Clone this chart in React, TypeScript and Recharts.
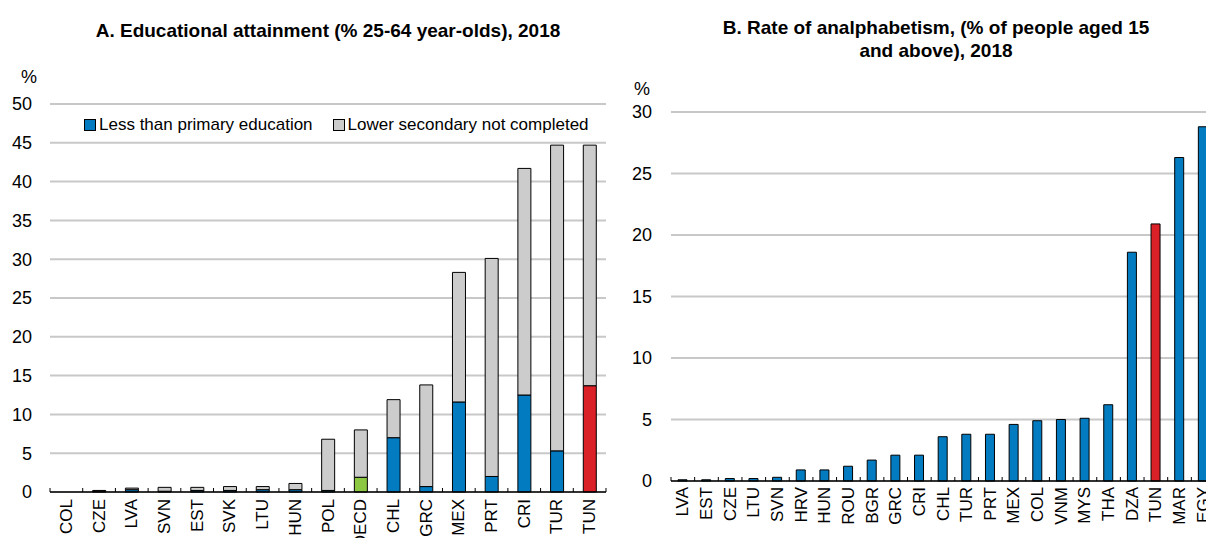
import { BarChart, Bar, XAxis, YAxis, CartesianGrid, Cell } from 'recharts'

// Panel A: educational attainment, % of 25-64 year-olds
const countriesA = ['COL', 'CZE', 'LVA', 'SVN', 'EST', 'SVK', 'LTU', 'HUN', 'POL', 'OECD', 'CHL', 'GRC', 'MEX', 'PRT', 'CRI', 'TUR', 'TUN']
const lessPrimary = [0, 0.1, 0.3, 0.1, 0.2, 0.2, 0.3, 0.3, 0.2, 1.9, 7.0, 0.7, 11.6, 2.0, 12.5, 5.3, 13.7]
const lowerSecondary = [0, 0.1, 0.2, 0.5, 0.4, 0.5, 0.4, 0.8, 6.6, 6.1, 4.9, 13.1, 16.7, 28.1, 29.2, 39.4, 31.0]
const ticksA = [0, 5, 10, 15, 20, 25, 30, 35, 40, 45, 50]

// Panel B: rate of analphabetism, % of people aged 15 and above
const countriesB = ['LVA', 'EST', 'CZE', 'LTU', 'SVN', 'HRV', 'HUN', 'ROU', 'BGR', 'GRC', 'CRI', 'CHL', 'TUR', 'PRT', 'MEX', 'COL', 'VNM', 'MYS', 'THA', 'DZA', 'TUN', 'MAR', 'EGY']
const analphabetism = [0.1, 0.1, 0.2, 0.2, 0.3, 0.9, 0.9, 1.2, 1.7, 2.1, 2.1, 3.6, 3.8, 3.8, 4.6, 4.9, 5.0, 5.1, 6.2, 18.6, 20.9, 26.3, 28.8]
const ticksB = [0, 5, 10, 15, 20, 25, 30]

const BLUE = '#037BC1'
const GREY = '#CCCCCC'
const RED = '#DA2128'
const GREEN = '#8CC841'
const GRID = '#C8C8C8'
const FONT = "'Liberation Sans', Arial, sans-serif"

const dataA = countriesA.map((country, i) => ({ country, less: lessPrimary[i], lower: lowerSecondary[i] }))
const dataB = countriesB.map((country, i) => ({ country, value: analphabetism[i] }))

const blueFill = (name: string) => (name === 'TUN' ? RED : name === 'OECD' ? GREEN : BLUE)

// rotated label + small upward tick marks on the category boundaries
function CategoryTick(props: any) {
  const { x, y, payload, gap, last, band } = props
  const half = payload.offset || band / 2
  const axisY = y - gap
  return (
    <g>
      <line x1={x - half} x2={x - half} y1={axisY} y2={axisY - 4} stroke="#000" strokeWidth={1} />
      {payload.value === last && (
        <line x1={x + half} x2={x + half} y1={axisY} y2={axisY - 4} stroke="#000" strokeWidth={1} />
      )}
      <text
        x={x}
        y={y}
        transform={`rotate(-90, ${x}, ${y})`}
        textAnchor="end"
        dominantBaseline="central"
        fontSize={17}
        fontFamily={FONT}
        fill="#000"
      >
        {payload.value}
      </text>
    </g>
  )
}

const yTick = { fontSize: 18, fill: '#000', fontFamily: FONT }

export default function App() {
  return (
    <div
      style={{
        position: 'absolute',
        left: 0,
        top: 0,
        width: 1206,
        height: 538,
        overflow: 'hidden',
        background: '#fff',
        fontFamily: FONT,
        color: '#000',
      }}
    >
      {/* Panel A */}
      <div style={{ position: 'absolute', left: 30, width: 596, top: 20, textAlign: 'center', fontWeight: 'bold', fontSize: 19, lineHeight: '22px' }}>
        A. Educational attainment (% 25-64 year-olds), 2018
      </div>
      <div style={{ position: 'absolute', left: 21, top: 67, fontSize: 18 }}>%</div>
      <div style={{ position: 'absolute', left: 0, top: 0 }}>
        <BarChart width={620} height={538} data={dataA} margin={{ top: 104, right: 14, bottom: 0, left: 0 }} barSize={13}>
          <CartesianGrid vertical={false} stroke={GRID} strokeWidth={2} />
          <YAxis
            domain={[0, 50]}
            ticks={ticksA}
            width={50}
            axisLine={false}
            tickLine={false}
            tickSize={0}
            tickMargin={18}
            tick={yTick}
            interval={0}
          />
          <XAxis
            dataKey="country"
            height={46}
            interval={0}
            tickLine={false}
            tickSize={0}
            tickMargin={7}
            axisLine={{ stroke: '#000', strokeWidth: 1.5 }}
            tick={<CategoryTick gap={7} last="TUN" band={556 / 17} />}
          />
          <Bar dataKey="less" stackId="a" fill={BLUE} stroke="#000" strokeWidth={1} isAnimationActive={false}>
            {dataA.map((d) => (
              <Cell key={d.country} fill={blueFill(d.country)} />
            ))}
          </Bar>
          <Bar dataKey="lower" stackId="a" fill={GREY} stroke="#000" strokeWidth={1} isAnimationActive={false} />
        </BarChart>
      </div>
      <div style={{ position: 'absolute', left: 84, top: 115, fontSize: 17, display: 'flex', alignItems: 'center', whiteSpace: 'nowrap' }}>
        <span style={{ display: 'inline-block', width: 10, height: 10, background: BLUE, border: '1px solid #000', marginRight: 3 }} />
        <span>Less than primary education</span>
        <span style={{ display: 'inline-block', width: 10, height: 10, background: GREY, border: '1px solid #000', marginLeft: 20, marginRight: 3 }} />
        <span>Lower secondary not completed</span>
      </div>

      {/* Panel B */}
      <div style={{ position: 'absolute', left: 644, width: 584, top: 16, textAlign: 'center', fontWeight: 'bold', fontSize: 19, lineHeight: '23px' }}>
        B. Rate of analphabetism, (% of people aged 15
        <br />
        and above), 2018
      </div>
      <div style={{ position: 'absolute', left: 634, top: 79, fontSize: 18 }}>%</div>
      <div style={{ position: 'absolute', left: 600, top: 0 }}>
        <BarChart width={625} height={538} data={dataB} margin={{ top: 112, right: 10, bottom: 0, left: 0 }} barSize={9}>
          <CartesianGrid vertical={false} stroke={GRID} strokeWidth={2} />
          <YAxis
            domain={[0, 30]}
            ticks={ticksB}
            width={71}
            axisLine={false}
            tickLine={false}
            tickSize={0}
            tickMargin={19}
            tick={yTick}
            interval={0}
          />
          <XAxis
            dataKey="country"
            height={57}
            interval={0}
            tickLine={false}
            tickSize={0}
            tickMargin={6}
            axisLine={{ stroke: '#000', strokeWidth: 1.5 }}
            tick={<CategoryTick gap={6} last="EGY" band={544 / 23} />}
          />
          <Bar dataKey="value" fill={BLUE} stroke="#000" strokeWidth={1} isAnimationActive={false}>
            {dataB.map((d) => (
              <Cell key={d.country} fill={d.country === 'TUN' ? RED : BLUE} />
            ))}
          </Bar>
        </BarChart>
      </div>
    </div>
  )
}
